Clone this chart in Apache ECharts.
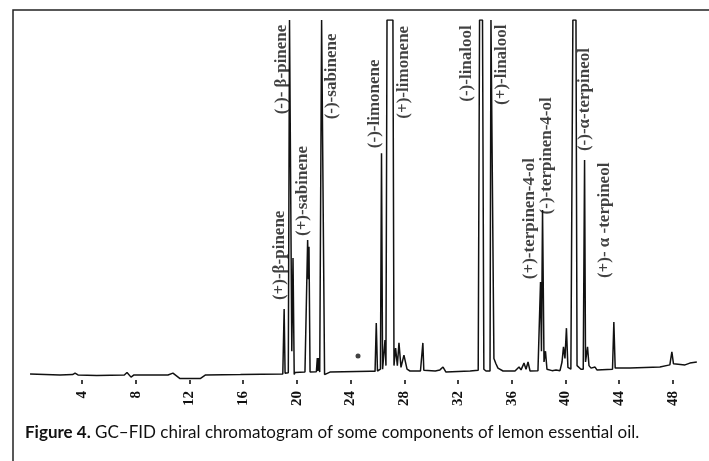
<!DOCTYPE html>
<html>
<head>
<meta charset="utf-8">
<script src="https://cdn.jsdelivr.net/npm/echarts@6/dist/echarts.min.js"></script>
<style>
  html, body { margin: 0; padding: 0; background: #fff; }
  #chart { width: 709px; height: 461px; }
</style>
</head>
<body>
<div id="chart"></div>
<script>
// retention time (min) and detector signal (arbitrary, 100 = top of plot)
var retentionTime = [
  0.13, 2.36, 3.3, 3.48, 3.7, 5.1, 7.15, 7.35, 7.65, 7.87, 10.4, 10.77, 11.3, 12.8, 13.2, 15.8,
  18.95, 19.05, 19.12, 19.36, 19.45, 19.53, 19.62, 19.71, 19.8, 19.86,
  20.6, 20.72, 20.8, 20.86, 20.9, 20.98, 21.45, 21.52, 21.57, 21.62, 21.7,
  21.78, 21.84, 21.96, 22.06, 22.46, 25.45, 25.82, 25.91, 26.0,
  26.22, 26.3, 26.38, 26.5, 26.56, 26.63, 26.71, 27.15, 27.23,
  27.35, 27.48, 27.6, 27.75, 27.97, 28.2, 28.42, 29.2, 29.32, 29.38, 29.45,
  30.3, 30.65, 30.88, 31.1, 32.9, 33.5, 33.6, 33.82, 33.92, 34.08, 34.38,
  34.45, 34.56, 34.67, 34.82, 34.97, 35.35, 36.24, 36.54, 36.69, 36.91, 37.06, 37.21, 37.36,
  37.95, 38.08, 38.14, 38.21, 38.29, 38.4, 38.51, 38.62, 39.0, 39.3, 39.59,
  39.74, 39.85, 39.96, 40.07, 40.18, 40.4, 40.55, 40.78, 40.86,
  41.15, 41.32, 41.42, 41.49, 41.64, 41.75, 41.9, 42.2, 42.34,
  43.5, 43.6, 43.7, 44.8, 47.03, 47.77, 47.92, 48.04, 48.9, 49.26, 49.78
];
var detectorSignal = [
  1.7, 1.4, 1.5, 1.9, 1.4, 1.25, 1.4, 2.1, 0.8, 1.4, 1.4, 1.9, 0.4, 0.4, 1.4, 1.5,
  1.7, 19.7, 1.9, 2.0, 100, 100, 8, 33.9, 1.5, 2.1,
  2.2, 2.2, 38.9, 28, 37, 2.2, 2.3, 6.1, 2.5, 6.1, 2.2,
  2.0, 100, 100, 1.5, 2.2, 2.4, 2.4, 15.8, 2.5,
  3, 63, 3, 3.5, 11.1, 4, 100, 100, 4,
  8.9, 4, 10.3, 3.5, 6.9, 3, 2.5, 2.5, 2.7, 10.3, 2.7,
  2.5, 2.8, 3.6, 2.2, 2.5, 2.7, 100, 100, 3, 2.5, 2.5,
  100, 100, 6, 4.5, 3.3, 2.5, 2.5, 3.6, 2.8, 4.7, 3, 5, 2.5,
  2.6, 2.8, 27.2, 8, 47.2, 5, 8, 3, 2.6, 2.8, 2.6,
  5, 9.2, 6, 14.4, 3.5, 3, 100, 100, 4,
  3, 3, 61.1, 5, 9.2, 4, 3.3, 3.6, 2.8,
  3, 16.1, 3.3, 3.3, 3.6, 4.2, 7.8, 4.5, 4.2, 4.7, 5
];

// peak annotations: text, where the text starts (bottom end)
var peakLabels = [
  '(+)-β-pinene', '(-)- β-pinene', '(+)-sabinene', '(-)-sabinene',
  '(-)-limonene', '(+)-limonene', '(-)-linalool', '(+)-linalool',
  '(+)-terpinen-4-ol', '(-)-terpinen-4-ol', '(-)-α-terpineol', '(+)- α -terpineol'
];
var labelTime = [18.7, 18.89, 20.45, 22.61, 25.82, 27.98, 32.6, 35.27, 37.36, 38.62, 41.45, 42.94];
var labelSignal = [22.2, 73.8, 40, 72.4, 64.4, 72.6, 77.3, 76.4, 28, 46, 63.6, 28.3];

var tickValues = [4, 8, 12, 16, 20, 24, 28, 32, 36, 40, 44, 48];
var dotMark = [[24.55, 6.7]];

var chart = echarts.init(document.getElementById('chart'));

var trace = [];
for (var i = 0; i < retentionTime.length; i++) {
  trace.push([retentionTime[i], detectorSignal[i]]);
}
var labelPts = [];
for (var j = 0; j < peakLabels.length; j++) {
  labelPts.push({ value: [labelTime[j], labelSignal[j]], name: peakLabels[j] });
}

var option = {
  backgroundColor: '#fff',
  animation: false,
  title: {
    left: 20,
    top: 419,
    text: '{b|Figure 4.} GC–FID chiral chromatogram of some components of lemon essential oil.',
    textStyle: {
      fontFamily: 'Lato',
      fontSize: 17,
      fontWeight: 'normal',
      color: '#111',
      rich: {
        b: { fontFamily: 'Lato', fontSize: 17, fontWeight: 'bold', color: '#111' }
      }
    }
  },
  grid: { left: 28.3, right: 9.2, top: 20, bottom: 81 },
  xAxis: {
    type: 'value',
    min: 0,
    max: 50,
    interval: 4,
    offset: 2,
    splitLine: { show: false },
    axisLine: { show: false },
    axisTick: { show: true, length: 4, customValues: tickValues, lineStyle: { color: '#111', width: 1.6 } },
    axisLabel: {
      customValues: tickValues,
      rotate: 90,
      margin: 9,
      fontFamily: 'Liberation Serif',
      fontWeight: 'bold',
      fontSize: 15,
      color: '#111'
    }
  },
  yAxis: {
    type: 'value',
    min: 0,
    max: 100,
    show: false
  },
  series: [
    {
      type: 'line',
      data: trace,
      symbol: 'none',
      lineStyle: { color: '#111', width: 1.5 },
      silent: true
    },
    {
      type: 'scatter',
      data: dotMark,
      symbolSize: 5,
      itemStyle: { color: '#111' }
    },
    {
      type: 'scatter',
      data: labelPts,
      symbolSize: 0,
      label: {
        show: true,
        position: 'inside',
        formatter: '{b}',
        rotate: 90,
        align: 'left',
        verticalAlign: 'middle',
        fontFamily: 'Liberation Serif',
        fontWeight: 'bold',
        fontSize: 17,
        color: '#111'
      }
    }
  ],
  graphic: [
    {
      type: 'rect',
      shape: { x: 13, y: 10, width: 760, height: 520 },
      style: { fill: null, stroke: '#222', lineWidth: 1.5 },
      silent: true
    }
  ]
};
chart.setOption(option);
</script>
</body>
</html>
